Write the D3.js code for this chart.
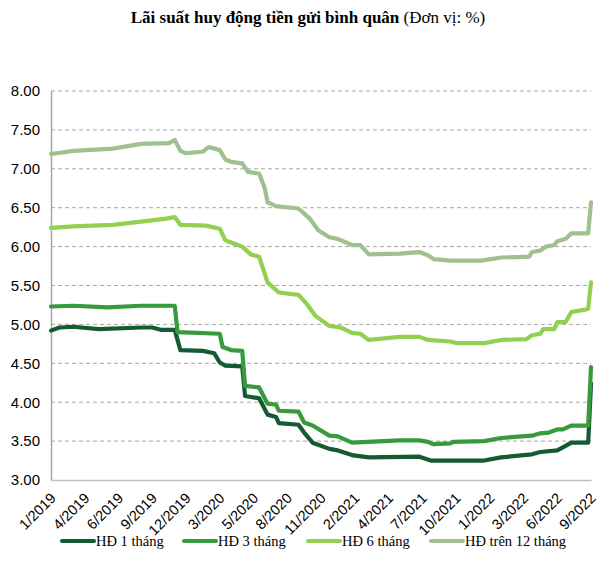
<!DOCTYPE html>
<html>
<head>
<meta charset="utf-8">
<script src="https://cdn.jsdelivr.net/npm/d3@7"></script>
<style>
    body { margin: 0; background: #fff; }
    svg { font-family: "Times New Roman", "Liberation Serif", serif; }
    .grid line { stroke: #a6a6a6; stroke-dasharray: 4,3; }
    .rate { fill: none; stroke-width: 4.2; stroke-linejoin: round; stroke-linecap: round; }
</style>
</head>
<body>
<svg class="chart" width="608" height="585"></svg>
<script>
// x labels, one every 12 weeks starting from the first week of 2019
const tickLabels = ['1/2019','4/2019','6/2019','9/2019','12/2019','3/2020','5/2020','8/2020','11/2020',
    '2/2021','4/2021','7/2021','10/2021','1/2022','3/2022','6/2022','9/2022'];
const yTicks = [3, 3.5, 4, 4.5, 5, 5.5, 6, 6.5, 7, 7.5, 8];

const seriesNames = ['HĐ 1 tháng', 'HĐ 3 tháng', 'HĐ 6 tháng', 'HĐ trên 12 tháng'];
const seriesColors = ['#145a32', '#379a3d', '#92d050', '#9fc190'];

// [week, rate]
const rate1m = [[0,4.92],[3,4.96],[8,4.97],[17,4.94],[32,4.96],[36,4.96],[39,4.93],[44,4.93],[46,4.67],[54,4.66],
    [58,4.63],[60,4.51],[62,4.47],[68,4.46],[69,4.08],[74,4.05],[77,3.84],[80,3.81],[81,3.73],[88,3.71],[90,3.61],
    [93,3.48],[99,3.40],[102,3.38],[107,3.32],[113,3.29],[131,3.30],[135,3.25],[154,3.25],[160,3.29],[171,3.33],
    [174,3.36],[180,3.38],[182,3.42],[185,3.48],[191,3.48],[192,4.24]];
const rate3m = [[0,5.23],[8,5.24],[20,5.22],[32,5.24],[44,5.24],[45,4.90],[60,4.88],[61,4.71],[64,4.67],[68,4.66],
    [69,4.21],[74,4.19],[77,3.98],[80,3.97],[81,3.89],[88,3.88],[90,3.74],[93,3.70],[99,3.57],[102,3.56],[107,3.48],
    [124,3.51],[131,3.51],[134,3.49],[136,3.46],[142,3.47],[143,3.49],[154,3.50],[160,3.54],[171,3.57],[174,3.60],
    [177,3.61],[180,3.65],[182,3.65],[185,3.70],[191,3.70],[192,4.45]];
const rate6m = [[0,6.24],[8,6.26],[22,6.28],[32,6.32],[41,6.36],[44,6.38],[46,6.28],[55,6.27],[60,6.23],[62,6.08],
    [65,6.04],[68,6.00],[71,5.90],[74,5.87],[77,5.54],[81,5.41],[88,5.38],[91,5.26],[94,5.11],[99,4.98],[103,4.96],
    [107,4.89],[110,4.88],[113,4.80],[124,4.84],[131,4.84],[134,4.80],[142,4.78],[144,4.76],[154,4.76],[160,4.80],
    [169,4.81],[171,4.86],[174,4.88],[175,4.94],[179,4.94],[180,5.03],[183,5.03],[185,5.16],[190,5.19],[191,5.20],[192,5.54]];
const rate12m = [[0,7.19],[8,7.23],[22,7.26],[32,7.32],[42,7.33],[44,7.37],[46,7.23],[48,7.20],[54,7.22],[56,7.28],
    [60,7.24],[62,7.12],[64,7.09],[68,7.07],[70,6.96],[74,6.94],[76,6.75],[77,6.57],[80,6.52],[88,6.49],[92,6.36],
    [95,6.21],[99,6.12],[102,6.10],[107,6.02],[110,6.02],[113,5.90],[124,5.91],[131,5.93],[134,5.89],[136,5.84],
    [142,5.82],[153,5.82],[160,5.86],[170,5.87],[171,5.93],[174,5.95],[176,6.00],[179,6.02],[180,6.07],[183,6.10],
    [185,6.17],[191,6.17],[192,6.57]];

const allSeries = [rate1m, rate3m, rate6m, rate12m];

let LEFT = 51, RIGHT = 591, TOP = 91, BOTTOM = 480;

const svg = d3.select('.chart');

const xScale = d3.scaleLinear()
.domain([0, (tickLabels.length - 1) * 12])
.range([LEFT, RIGHT]);

const yScale = d3.scaleLinear()
.domain([3, 8])
.range([BOTTOM, TOP]);

// title, bold part plus unit in normal weight
const title = svg.append('text')
.attr('x', 308)
.attr('y', 23)
.attr('text-anchor', 'middle')
.style('font-size', '17px')
.attr('fill', '#000');
title.append('tspan').attr('font-weight', 'bold').text('Lãi suất huy động tiền gửi bình quân');
title.append('tspan').text(' (Đơn vị: %)');

// dashed horizontal gridlines
svg.append('g')
.attr('class', 'grid')
.selectAll('line')
.data(yTicks.filter(d => d > 3))
.enter()
.append('line')
.attr('x1', LEFT)
.attr('x2', RIGHT)
.attr('y1', d => yScale(d))
.attr('y2', d => yScale(d));

// y axis
const yAxis = svg.append('g')
.attr('transform', `translate(${LEFT},0)`)
.call(d3.axisLeft(yScale).tickValues(yTicks).tickFormat(d3.format('.2f')).tickSize(0).tickPadding(11));
yAxis.select('.domain').attr('stroke', '#a6a6a6').attr('stroke-width', 1.5);
yAxis.selectAll('text').style('font-size', '15px').style('font-family', 'inherit').attr('fill', '#000');

// x axis, rotated labels
const xAxis = svg.append('g')
.attr('transform', `translate(0,${BOTTOM})`)
.call(d3.axisBottom(xScale).tickValues(d3.range(tickLabels.length).map(i => i * 12))
    .tickFormat((d, i) => tickLabels[i]).tickSize(0).tickSizeOuter(0));
xAxis.select('.domain').attr('stroke', '#bfbfbf').attr('stroke-width', 1.5);
xAxis.selectAll('text')
.style('font-size', '14.5px')
.style('font-family', 'inherit')
.attr('fill', '#000')
.attr('text-anchor', 'end')
.attr('dy', 0)
.attr('transform', 'translate(3,17) rotate(-45)');

// the four rate lines
const line = d3.line()
.x(d => xScale(d[0]))
.y(d => yScale(d[1]));

svg.selectAll('path.rate')
.data(allSeries)
.enter()
.append('path')
.attr('class', 'rate')
.attr('stroke', (d, i) => seriesColors[i])
.attr('d', line);

// legend
const legendX = [62, 184, 308, 431];
const legend = svg.selectAll('g.legend')
.data(seriesNames)
.enter()
.append('g')
.attr('class', 'legend')
.attr('transform', (d, i) => `translate(${legendX[i]},541)`);

legend.append('line')
.attr('x1', 0)
.attr('x2', 32)
.attr('stroke', (d, i) => seriesColors[i])
.attr('stroke-width', 4)
.attr('stroke-linecap', 'round');

legend.append('text')
.attr('x', 34)
.attr('dy', '0.35em')
.style('font-size', '14.5px')
.text(d => d);
</script>
</body>
</html>
